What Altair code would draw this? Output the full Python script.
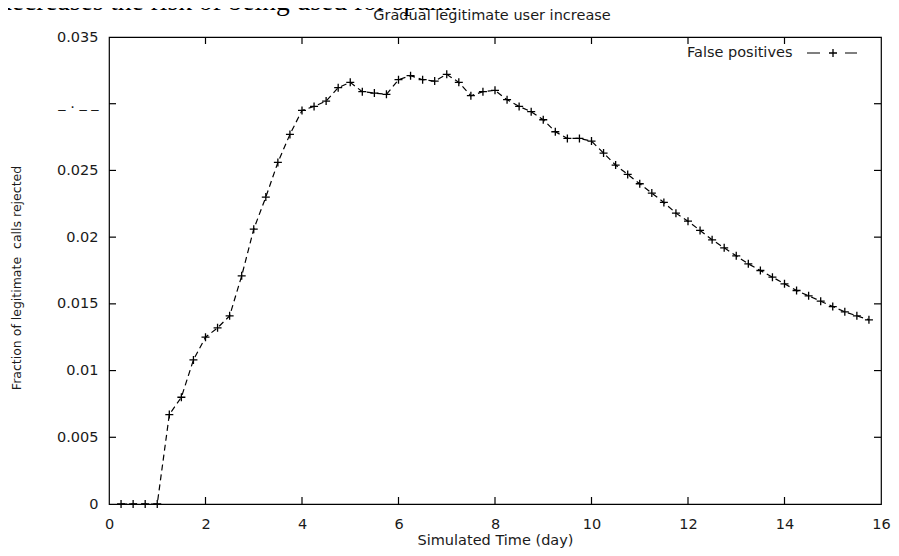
import altair as alt
import pandas as pd

# ---- data ----
days = [0.25 * i for i in range(1, 64)]
false_positives = [
    0.0, 0.0, 0.0, 0.0, 0.0067, 0.0080, 0.0108, 0.0125, 0.0132, 0.0141,
    0.0171, 0.0206, 0.0230, 0.0256, 0.0277, 0.0295, 0.0298, 0.0302, 0.0312, 0.0316,
    0.0309, 0.0308, 0.0307, 0.0318, 0.0321, 0.0318, 0.0317, 0.0322, 0.0316, 0.0306,
    0.0309, 0.0310, 0.0303, 0.0298, 0.0294, 0.0288, 0.0279, 0.0274, 0.0274, 0.0272,
    0.0263, 0.0254, 0.0247, 0.0240, 0.0233, 0.0226, 0.0218, 0.0212, 0.0205, 0.0198,
    0.0192, 0.0186, 0.0180, 0.0175, 0.0170, 0.0165, 0.0160, 0.0156, 0.0152, 0.0148,
    0.0144, 0.0141, 0.0138,
]
x_ticks = [0, 2, 4, 6, 8, 10, 12, 14, 16]
y_ticks = [0, 0.005, 0.01, 0.015, 0.02, 0.025, 0.03, 0.035]
title_text = "Gradual legitimate user increase"
header_text = "decreases the risk of being used for spam."
legend_label = "False positives"
x_title = "Simulated Time (day)"
y_title = "Fraction of legitimate\u00a0 calls rejected"

W, H = 772, 467
FONT = "DejaVu Sans"
INK = "#1a1a1a"

df = pd.DataFrame({"day": days, "fp": false_positives})

xs = alt.Scale(domain=[0, 16], nice=False)
ys = alt.Scale(domain=[0, 0.035], nice=False)

x_axis = alt.Axis(values=x_ticks, ticks=False, domain=False, grid=False,
                  labelFont=FONT, labelFontSize=14.5, labelColor=INK,
                  labelPadding=13, labelFlush=False, labelOverlap=False,
                  title=x_title, titleFont=FONT, titleFontSize=14.5, titleFontWeight="normal",
                  titleColor=INK, titleX=W / 2, titleY=36.5, titleBaseline="middle",
                  titleAnchor="middle")
y_axis = alt.Axis(values=y_ticks, ticks=False, domain=False, grid=False,
                  labelFont=FONT, labelFontSize=14.5, labelColor=INK,
                  labelPadding=11, labelFlush=False, labelOverlap=False,
                  labelExpr="abs(datum.value - 0.03) < 1e-9 ? '_ . _ _' : format(datum.value, '.3~f')",
                  title=y_title, titleFont=FONT, titleFontSize=12.5, titleFontWeight="normal",
                  titleColor=INK, titleX=-93, titleY=H / 2 + 7, titleAngle=270,
                  titleBaseline="middle", titleAlign="center")

base = alt.Chart(df)

line = base.mark_line(color="black", strokeWidth=1.2, strokeDash=[6, 4]).encode(
    x=alt.X("day:Q", scale=xs, axis=x_axis),
    y=alt.Y("fp:Q", scale=ys, axis=y_axis),
)
pts = base.mark_point(shape="M-1,0L1,0M0,-1L0,1", size=64, filled=False,
                      color="black", strokeWidth=1.3, opacity=1).encode(
    x=alt.X("day:Q", scale=xs), y=alt.Y("fp:Q", scale=ys))

# inward ticks on all four sides
xt = alt.Chart(pd.DataFrame({"v": x_ticks[1:-1]}))
yt = alt.Chart(pd.DataFrame({"v": y_ticks[1:-1]}))
tick_style = dict(color="black", strokeWidth=1.2)
bottom_ticks = xt.mark_rule(**tick_style).encode(
    x=alt.X("v:Q", scale=xs), y=alt.value(H), y2=alt.value(H - 7))
top_ticks = xt.mark_rule(**tick_style).encode(
    x=alt.X("v:Q", scale=xs), y=alt.value(0), y2=alt.value(7))
left_ticks = yt.mark_rule(**tick_style).encode(
    y=alt.Y("v:Q", scale=ys), x=alt.value(0), x2=alt.value(7))
right_ticks = yt.mark_rule(**tick_style).encode(
    y=alt.Y("v:Q", scale=ys), x=alt.value(W), x2=alt.value(W - 7))

one = alt.Chart(pd.DataFrame({"k": [0]}))
title = one.mark_text(text=title_text, font=FONT, fontSize=14.5, color=INK,
                      align="center", baseline="alphabetic").encode(
    x=alt.value(W / 2 - 3), y=alt.value(-17))
header = one.mark_text(text=header_text, font="Liberation Serif", fontSize=27.5,
                       color="black", align="left", baseline="alphabetic").encode(
    x=alt.value(-111), y=alt.value(-27))

# legend
leg_text = one.mark_text(text=legend_label, font=FONT, fontSize=14.5, color=INK,
                         align="left", baseline="middle").encode(
    x=alt.value(578), y=alt.value(16))
leg_line = one.mark_rule(color="black", strokeWidth=1.2, strokeDash=[13, 25, 12]).encode(
    x=alt.value(698), x2=alt.value(748), y=alt.value(16))
leg_pt = one.mark_point(shape="M-1,0L1,0M0,-1L0,1", size=64, filled=False,
                        color="black", strokeWidth=1.3, opacity=1).encode(
    x=alt.value(724), y=alt.value(16))

chart = alt.layer(
    line, pts, bottom_ticks, top_ticks, left_ticks, right_ticks,
    title, header, leg_text, leg_line, leg_pt,
).properties(
    width=W, height=H,
    autosize=alt.AutoSizeParams(type="none"),
    padding={"left": 101, "top": 29, "right": 10, "bottom": 44},
    background="white",
).configure_view(stroke="black", strokeWidth=1.2)

chart.save("out.html", embed_options={"renderer": "svg", "actions": False})
